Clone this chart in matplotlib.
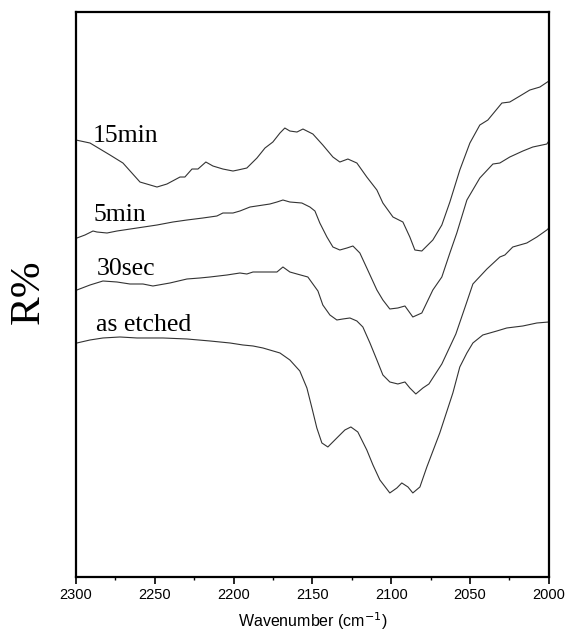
import matplotlib
matplotlib.use("Agg")
import matplotlib.pyplot as plt
from matplotlib.ticker import MultipleLocator

# wavenumber (cm-1) and reflectance (arbitrary offset units)
wn_15min = [2300, 2291.1, 2278.4, 2270.2, 2259.4, 2248.6, 2242.3, 2234.0, 2230.9, 2226.4,
            2222.6, 2217.6, 2213.1, 2206.8, 2200.4, 2197.3, 2191.6, 2185.2, 2180.1, 2175.1,
            2170.6, 2167.5, 2164.3, 2159.8, 2156.0, 2149.7, 2143.4, 2137.0, 2132.6, 2127.5,
            2121.8, 2115.5, 2109.1, 2105.3, 2098.9, 2092.6, 2088.2, 2085.0, 2080.6, 2073.6,
            2067.9, 2062.8, 2056.5, 2050.1, 2043.8, 2038.7, 2029.8, 2024.8, 2018.4, 2012.1,
            2005.7, 2000]
r_15min = [437, 434, 422, 414, 395, 390, 393, 400, 400, 408,
           408, 415, 411, 408, 406, 407, 409, 419, 429, 435,
           444, 449, 446, 445, 448, 443, 432, 420, 415, 418,
           414, 400, 387, 374, 360, 355, 340, 327, 326, 337,
           352, 375, 407, 434, 452, 457, 474, 475, 481, 487,
           490, 496]

wn_5min = [2299.4, 2294.3, 2289.2, 2286.7, 2280.3, 2274.0, 2261.3, 2248.6, 2238.5, 2229.6,
           2219.5, 2210.6, 2206.8, 2200.4, 2196.0, 2189.6, 2177.0, 2172.5, 2168.7, 2164.3,
           2156.7, 2151.6, 2148.4, 2145.3, 2140.8, 2137.0, 2132.6, 2128.1, 2124.3, 2119.9,
           2115.5, 2109.1, 2105.3, 2100.9, 2095.8, 2091.3, 2086.3, 2080.6, 2073.6, 2067.9,
           2062.8, 2058.4, 2052.0, 2043.8, 2035.5, 2031.1, 2024.8, 2016.5, 2010.2, 2001.3,
           2000]
r_5min = [339, 342, 346, 345, 344, 346, 349, 352, 355, 357,
          359, 361, 364, 364, 366, 370, 373, 375, 377, 375,
          374, 370, 366, 354, 340, 330, 327, 329, 331, 324,
          309, 287, 277, 268, 269, 271, 260, 264, 287, 300,
          324, 344, 377, 399, 413, 414, 420, 426, 430, 433,
          436]

wn_30sec = [2299.4, 2291.1, 2282.9, 2274.0, 2265.8, 2257.5, 2251.2, 2240.4, 2229.6, 2221.4,
            2215.0, 2204.2, 2196.0, 2191.6, 2187.7, 2181.4, 2172.5, 2168.7, 2164.3, 2159.8,
            2152.9, 2149.7, 2146.5, 2143.4, 2138.9, 2134.5, 2130.7, 2126.2, 2121.8, 2118.0,
            2113.5, 2109.1, 2105.3, 2100.9, 2095.8, 2091.3, 2088.2, 2084.4, 2079.9, 2076.1,
            2067.9, 2059.0, 2052.7, 2048.2, 2039.3, 2031.1, 2027.9, 2022.9, 2014.0, 2007.6,
            2001.3, 2000]
r_30sec = [287, 292, 296, 295, 293, 293, 291, 294, 298, 299,
           300, 302, 304, 303, 305, 305, 305, 310, 305, 303,
           300, 293, 286, 272, 262, 257, 258, 259, 256, 250,
           234, 217, 202, 195, 193, 195, 189, 183, 189, 193,
           213, 243, 272, 293, 308, 320, 322, 330, 334, 340,
           347, 349]

wn_etched = [2299.4, 2291.1, 2282.9, 2272.1, 2261.3, 2244.8, 2229.6, 2215.0, 2202.3, 2194.1,
             2187.7, 2181.4, 2170.6, 2164.3, 2158.0, 2153.5, 2150.3, 2147.2, 2144.0, 2140.2,
             2134.5, 2129.4, 2125.6, 2121.2, 2115.5, 2111.6, 2107.2, 2100.9, 2096.4, 2093.3,
             2089.4, 2086.3, 2081.8, 2077.4, 2069.2, 2060.9, 2056.5, 2052.0, 2048.2, 2041.9,
             2033.0, 2026.7, 2016.5, 2007.6, 2000]
r_etched = [234, 237, 239, 240, 239, 239, 238, 236, 234, 232,
            231, 229, 224, 217, 206, 189, 169, 149, 134, 130,
            139, 147, 150, 145, 127, 112, 97, 84, 89, 94,
            90, 84, 90, 110, 144, 184, 210, 224, 234, 242,
            246, 249, 251, 254, 255]

labels = ["15min", "5min", "30sec", "as etched"]
label_pos = [(2289.2, 435), (2289.2, 356), (2286.7, 302), (2287.3, 246)]

fig = plt.figure(figsize=(5.67, 6.34), dpi=100)
ax = fig.add_axes([0.134, 0.09, 0.834, 0.891])

for wn, r in [(wn_15min, r_15min), (wn_5min, r_5min), (wn_30sec, r_30sec), (wn_etched, r_etched)]:
    ax.plot(wn, r, color="#333333", lw=0.8)

for lab, (x, y) in zip(labels, label_pos):
    ax.text(x, y, lab, family="Liberation Serif", fontsize=18.5, ha="left", va="baseline")

ax.set_xlim(2300, 2000)
ax.set_ylim(0, 565)
ax.xaxis.set_major_locator(MultipleLocator(50))
ax.xaxis.set_minor_locator(MultipleLocator(25))
ax.set_yticks([])
ax.tick_params(axis="x", which="major", length=5, width=1.2, pad=3, labelsize=10.5)
ax.tick_params(axis="x", which="minor", length=2.5, width=1.0)
for lbl in ax.get_xticklabels():
    lbl.set_family("Liberation Sans")
for s in ax.spines.values():
    s.set_linewidth(1.6)

ax.set_xlabel("Wavenumber (cm$^{-1}$)", family="Liberation Sans", fontsize=11.5, labelpad=6)
fig.text(0.05, 0.54, "R%", family="Liberation Serif", fontsize=31, rotation=90,
         ha="center", va="center")

fig.savefig("out.png", dpi=100)
